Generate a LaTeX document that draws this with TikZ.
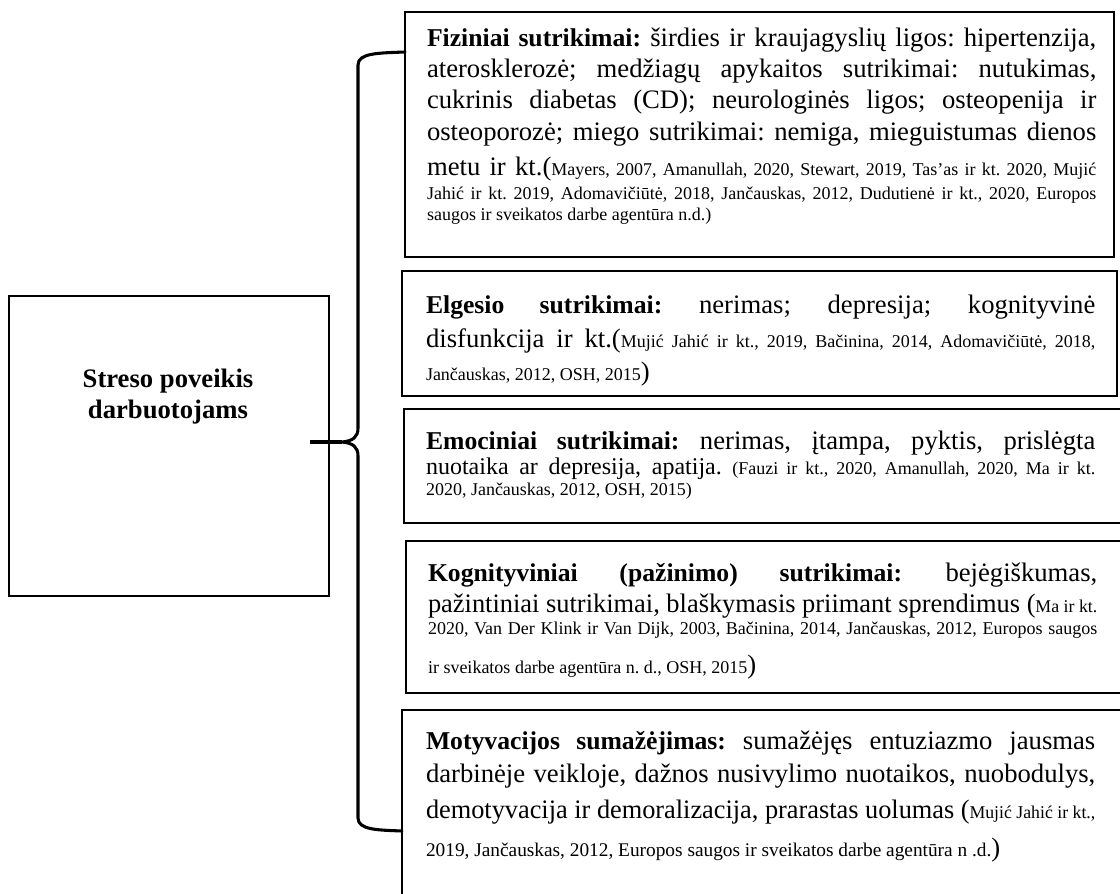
\documentclass[tikz,border=0pt]{standalone}
\usepackage{fontspec}
\usepackage{graphicx}
\setmainfont{Liberation Serif}
\usetikzlibrary{fit}
\frenchspacing

% type sizes: bold lead-ins, body text, smaller body text, references
\newcommand\Bd{\fontsize{19.25pt}{23pt}\selectfont\bfseries}
\newcommand\Rg{\fontsize{20pt}{24pt}\selectfont}
\newcommand\Rs{\fontsize{18pt}{22pt}\selectfont}
\newcommand\Sm{\fontsize{13.5pt}{16pt}\selectfont}
\newcommand\Sl{\fontsize{14.5pt}{17pt}\selectfont}
% justified text line of fixed measure (squeezed if too long)
\newlength\txtw
\setlength\txtw{502pt}
\newsavebox\linebox
\newcommand\full[1]{\sbox\linebox{#1}%
  \ifdim\wd\linebox>\txtw\resizebox{\txtw}{\height}{\usebox\linebox}%
  \else\makebox[\txtw][s]{#1}\fi}

\begin{document}
\begin{tikzpicture}[x=0.75pt,y=-0.75pt,
  frame/.style={draw, line width=1.5pt, rectangle, inner sep=0pt, outer sep=0pt},
  ln/.style={anchor=base west, inner sep=0pt, outer sep=0pt},
  brace/.style={line width=2.3pt, line cap=round, line join=round},
  stem/.style={line width=3pt}]
\useasboundingbox (0,0) rectangle (1120,893);
\clip (0,0) rectangle (1120,893);

% central box
\node[frame, fit={(9,296) (329,596)}] (src) {};
\node[font=\bfseries\fontsize{20pt}{23.25pt}\selectfont, align=center] (title) at (168,397)
  {Streso poveikis\\darbuotojams};

% category boxes
\node[frame, fit={(405,12) (1114,257)}] (b1) {};
\node[frame, fit={(402,271) (1117,396)}] (b2) {};
\node[frame, fit={(404,409) (1126,523)}] (b3) {};
\node[frame, fit={(406,541) (1126,693)}] (b4) {};
\node[frame, fit={(402,710) (1126,905)}] (b5) {};

% physical disorders
\node[ln] (b1a) at (427,46)  {\full{\Rg{\Bd Fiziniai sutrikimai:} širdies ir kraujagyslių ligos: hipertenzija,}};
\node[ln] (b1b) at (427,77)  {\full{\Rg aterosklerozė; medžiagų apykaitos sutrikimai: nutukimas,}};
\node[ln] (b1c) at (427,108) {\full{\Rg cukrinis diabetas (CD); neurologinės ligos; osteopenija ir}};
\node[ln] (b1d) at (427,140) {\full{\Rg osteoporozė; miego sutrikimai: nemiga, mieguistumas dienos}};
\node[ln] (b1e) at (427,175) {\full{\Rg metu ir kt.(\Sm Mayers, 2007, Amanullah, 2020, Stewart, 2019, Tas’as ir kt. 2020, Mujić}};
\node[ln] (b1f) at (427,199) {\full{\Sm Jahić ir kt. 2019, Adomavičiūtė, 2018, Jančauskas, 2012, Dudutienė ir kt., 2020, Europos}};
\node[ln] (b1g) at (427,220) {\Sm saugos ir sveikatos darbe agentūra n.d.)};

% behavioural disorders
\node[ln] (b2a) at (426,313) {\full{\Rg{\Bd Elgesio sutrikimai:} nerimas; depresija; kognityvinė}};
\node[ln] (b2b) at (426,347) {\full{\Rg disfunkcija ir kt.(\Sm Mujić Jahić ir kt., 2019, Bačinina, 2014, Adomavičiūtė, 2018,}};
\node[ln] (b2c) at (426,380) {\Sm Jančauskas, 2012, OSH, 2015\Rg )};

% emotional disorders
\node[ln] (b3a) at (426,449) {\full{\Rg{\Bd Emociniai sutrikimai:} nerimas, įtampa, pyktis, prislėgta}};
\node[ln] (b3b) at (426,474) {\full{\Rs nuotaika ar depresija, apatija. \Sm (Fauzi ir kt., 2020, Amanullah, 2020, Ma ir kt.}};
\node[ln] (b3c) at (426,495) {\Sm 2020, Jančauskas, 2012, OSH, 2015)};

% cognitive disorders
\node[ln] (b4a) at (428,581) {\full{\Rg{\Bd Kognityviniai (pažinimo) sutrikimai:} bejėgiškumas,}};
\node[ln] (b4b) at (428,612) {\full{\Rg pažintiniai sutrikimai, blaškymasis priimant sprendimus (\Sm Ma ir kt.}};
\node[ln] (b4c) at (428,634) {\full{\Sm 2020, Van Der Klink ir Van Dijk, 2003, Bačinina, 2014, Jančauskas, 2012, Europos saugos}};
\node[ln] (b4d) at (428,673) {\Sm ir sveikatos darbe agentūra n. d., OSH, 2015\Rg )};

% loss of motivation
\node[ln] (b5a) at (426,749) {\full{\Rg{\Bd Motyvacijos sumažėjimas:} sumažėjęs entuziazmo jausmas}};
\node[ln] (b5b) at (426,782) {\full{\Rg darbinėje veikloje, dažnos nusivylimo nuotaikos, nuobodulys,}};
\node[ln] (b5c) at (426,818) {\full{\Rg demotyvacija ir demoralizacija, prarastas uolumas (\Sm Mujić Jahić ir kt.,}};
\node[ln] (b5d) at (426,856) {\Sl 2019, Jančauskas, 2012, Europos saugos ir sveikatos darbe agentūra n .d.\Rg )};

% brace joining the central box to the categories
\coordinate (armtop) at ([yshift=-30pt]b1.north west);
\coordinate (armbot) at ([yshift=-90.75pt]b5.north west);
\coordinate (root)   at ([xshift=-14pt,yshift=3pt]src.east);
\coordinate (cusp)   at (342,442);

\draw[stem] (root) -- (cusp);
\draw[brace] (armtop) .. controls (378,53) and (358,53) .. (358,65)
  -- (358,428) .. controls (358,437) and (353,441) .. (cusp)
  .. controls (353,443) and (358,447) .. (358,456)
  -- (358,818) .. controls (358,830) and (378,830) .. (armbot);
\end{tikzpicture}
\end{document}
